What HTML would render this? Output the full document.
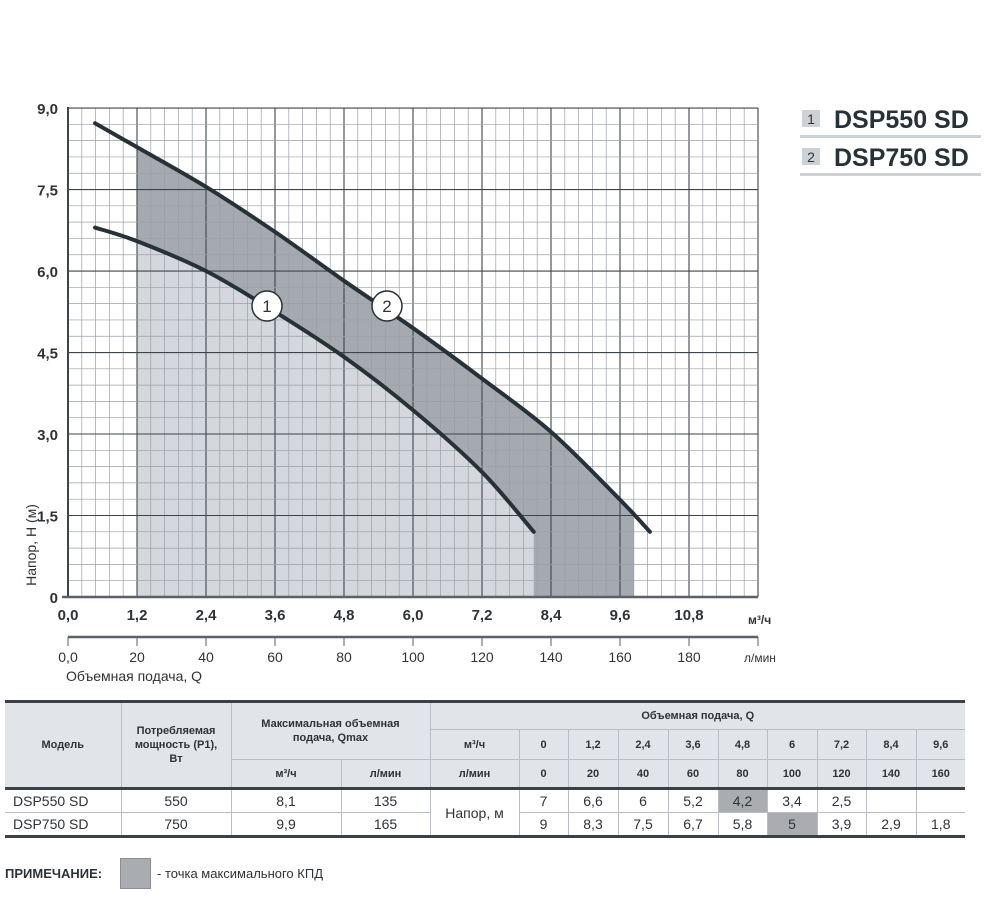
<!DOCTYPE html>
<html><head><meta charset="utf-8">
<style>
body{margin:0;background:#fff;width:1000px;height:924px;position:relative;overflow:hidden;font-family:"Liberation Sans Narrow","Liberation Sans",sans-serif;color:#2e3338}
svg{position:absolute;left:0;top:0}
table{position:absolute;left:5px;top:700px;border-collapse:collapse;table-layout:fixed;font-size:14px}
td{text-align:center;padding:0;border-left:1px solid #b9bec4;overflow:hidden;white-space:nowrap}
tr.h td{background:#e1e4e8;font-weight:bold;font-size:11px;color:#2e3338;border-bottom:1px solid #b9bec4}
td.w{white-space:normal;line-height:14px}
.hl{background:#a9adb2!important}
</style></head><body>
<svg id="chart" width="1000" height="700"></svg>
<table style="border-top:3px solid #3a4148;border-bottom:3px solid #3a4148">
<colgroup><col style="width:116px"><col style="width:110px"><col style="width:110px"><col style="width:89px"><col style="width:89px"><col style="width:49px"><col style="width:50px"><col style="width:50px"><col style="width:50px"><col style="width:49px"><col style="width:50px"><col style="width:49px"><col style="width:50px"><col style="width:49px"></colgroup>
<tr class="h" style="height:28px"><td rowspan="3" style="border-left:none">Модель</td><td rowspan="3" class="w">Потребляемая<br>мощность (P1),<br>Вт</td><td colspan="2" rowspan="2" class="w">Максимальная объемная<br>подача, Qmax</td><td colspan="10">Объемная подача, Q</td></tr>
<tr class="h" style="height:30px"><td>м³/ч</td><td>0</td><td>1,2</td><td>2,4</td><td>3,6</td><td>4,8</td><td>6</td><td>7,2</td><td>8,4</td><td>9,6</td></tr>
<tr class="h" style="height:29px;border-bottom:3px solid #3a4148"><td>м³/ч</td><td>л/мин</td><td>л/мин</td><td>0</td><td>20</td><td>40</td><td>60</td><td>80</td><td>100</td><td>120</td><td>140</td><td>160</td></tr>
<tr style="height:24px;border-bottom:1px solid #b9bec4"><td style="border-left:none;text-align:left;padding-left:8px">DSP550 SD</td><td>550</td><td>8,1</td><td>135</td><td rowspan="2">Напор, м</td><td>7</td><td>6,6</td><td>6</td><td>5,2</td><td class="hl">4,2</td><td>3,4</td><td>2,5</td><td></td><td></td></tr>
<tr style="height:24px"><td style="border-left:none;text-align:left;padding-left:8px">DSP750 SD</td><td>750</td><td>9,9</td><td>165</td><td>9</td><td>8,3</td><td>7,5</td><td>6,7</td><td>5,8</td><td class="hl">5</td><td>3,9</td><td>2,9</td><td>1,8</td></tr>
</table>
<div style="position:absolute;left:5px;top:866px;font-weight:bold;font-size:13px">ПРИМЕЧАНИЕ:</div>
<div style="position:absolute;left:120px;top:858px;width:29px;height:29px;background:#a9adb2;border:1px solid #8a8f95"></div>
<div style="position:absolute;left:157px;top:866px;font-size:13px">- точка максимального КПД</div>
<script>
const xTicks=[0,1.2,2.4,3.6,4.8,6.0,7.2,8.4,9.6,10.8];
const yTicks=[0,1.5,3.0,4.5,6.0,7.5,9.0];
const lpmTicks=[0,20,40,60,80,100,120,140,160,180];
const q1=[0.47,1.2,2.4,3.6,4.8,6.0,7.2,8.1];
const h1=[6.8,6.55,6.0,5.25,4.42,3.44,2.3,1.2];
const q2=[0.47,1.2,2.4,3.6,4.8,6.0,7.2,8.4,9.6,10.12];
const h2=[8.72,8.28,7.55,6.72,5.82,4.95,4.02,3.04,1.79,1.2];
const fillStart=1.2, fill1End=8.1, fill2End=9.84;
const X=q=>68+q*57.5, Y=h=>597-h*54.33;
const svg=document.getElementById('chart'),NS='http://www.w3.org/2000/svg';
function mk(t,a,p){const e=document.createElementNS(NS,t);for(const k in a)e.setAttribute(k,a[k]);(p||svg).appendChild(e);return e;}
function interp(qs,hs,q){for(let i=0;i<qs.length-1;i++){if(q<=qs[i+1]){const t=(q-qs[i])/(qs[i+1]-qs[i]);return hs[i]+t*(hs[i+1]-hs[i]);}}return hs[hs.length-1];}
function pts(qs,hs,a,b){const r=[];r.push([a,interp(qs,hs,a)]);qs.forEach((q,i)=>{if(q>a&&q<b)r.push([q,hs[i]]);});r.push([b,interp(qs,hs,b)]);return r;}
function smooth(p){let d='M'+X(p[0][0])+','+Y(p[0][1]);for(let i=0;i<p.length-1;i++){const p0=p[Math.max(0,i-1)],p1=p[i],p2=p[i+1],p3=p[Math.min(p.length-1,i+2)];const c1=[X(p1[0])+(X(p2[0])-X(p0[0]))/6,Y(p1[1])+(Y(p2[1])-Y(p0[1]))/6];const c2=[X(p2[0])-(X(p3[0])-X(p1[0]))/6,Y(p2[1])-(Y(p3[1])-Y(p1[1]))/6];d+=' C'+c1+' '+c2+' '+X(p2[0])+','+Y(p2[1]);}return d;}
// fills
const c1pts=pts(q1,h1,fillStart,fill1End), c2pts=pts(q2,h2,fillStart,fill2End);
let e=mk('path',{d:smooth(c2pts)+' L'+X(fill2End)+','+Y(0)+' L'+X(fillStart)+','+Y(0)+'Z',fill:'#a5aab0'});

e=mk('path',{d:smooth(c1pts)+' L'+X(fill1End)+','+Y(0)+' L'+X(fillStart)+','+Y(0)+'Z',fill:'#d4d8dc'});

// grid
const g=mk('g',{});
for(let i=0;i<=50;i++){const q=i*0.24,x=X(q);mk('line',{x1:x,x2:x,y1:Y(9),y2:Y(0),stroke:i%5?'#9aa0a6':'#3d454c','stroke-width':i%5?0.7:1.1},g);}
for(let i=0;i<=30;i++){const y=Y(i*0.3);mk('line',{x1:X(0),x2:758,y1:y,y2:y,stroke:i%5?'#9aa0a6':'#3d454c','stroke-width':i%5?0.7:1.1},g);}
mk('line',{x1:X(0),x2:X(0),y1:Y(9)-1,y2:Y(0),stroke:'#3d454c','stroke-width':2});
mk('line',{x1:X(0)-6,x2:758,y1:Y(0),y2:Y(0),stroke:'#5a6168','stroke-width':2.5});
// curves
e=mk('path',{d:smooth(q1.map((q,i)=>[q,h1[i]])),fill:'none',stroke:'#263238','stroke-width':4,'stroke-linecap':'round'});

e=mk('path',{d:smooth(q2.map((q,i)=>[q,h2[i]])),fill:'none',stroke:'#263238','stroke-width':4,'stroke-linecap':'round'});

[[267,306,'1'],[387,306,'2']].forEach(m=>{const c=mk('circle',{cx:m[0],cy:m[1],r:15,fill:'#fff',stroke:'#263238','stroke-width':1.5});const t=mk('text',{x:m[0],y:m[1]+6,'text-anchor':'middle','font-size':17,fill:'#333','font-family':'Liberation Sans, sans-serif'});t.textContent=m[2];});
// y ticks
yTicks.forEach(v=>{const t=mk('text',{x:58,y:Y(v)+6,'text-anchor':'end','font-size':15,'font-weight':'bold',fill:'#2e3338'});t.textContent=v===0?'0':v.toFixed(1).replace('.',',');});
e=mk('text',{x:0,y:0,transform:'translate(36,545) rotate(-90)','text-anchor':'middle','font-size':14,fill:'#2e3338'});e.textContent='Напор, Н (м)';
xTicks.forEach(v=>{const t=mk('text',{x:X(v),y:620,'text-anchor':'middle','font-size':15,'font-weight':'bold',fill:'#2e3338'});t.textContent=v.toFixed(1).replace('.',',');});
e=mk('text',{x:748,y:624,'font-size':12,'font-weight':'bold',fill:'#2e3338'});e.textContent='м³/ч';
// second axis
mk('line',{x1:X(0),x2:758,y1:637,y2:637,stroke:'#5a6168','stroke-width':2.5});
const lpmScale=v=>X(v*0.06);
lpmTicks.forEach(v=>{mk('line',{x1:lpmScale(v),x2:lpmScale(v),y1:637,y2:646,stroke:'#5a6168','stroke-width':1});const t=mk('text',{x:lpmScale(v),y:662,'text-anchor':'middle','font-size':14,fill:'#2e3338'});t.textContent=v===0?'0,0':v;});
mk('line',{x1:758,x2:758,y1:637,y2:646,stroke:'#5a6168','stroke-width':1});
e=mk('text',{x:744,y:662,'font-size':12,fill:'#2e3338'});e.textContent='л/мин';
e=mk('text',{x:66,y:681,'font-size':14,fill:'#2e3338'});e.textContent='Объемная подача, Q';
// legend
[['1','DSP550 SD',110],['2','DSP750 SD',148]].forEach(l=>{const b=mk('rect',{x:802,y:l[2],width:18,height:17,fill:'#ccd1d6'});let t=mk('text',{x:811,y:l[2]+14,'text-anchor':'middle','font-size':14,fill:'#333','font-family':'Liberation Sans, sans-serif'});t.textContent=l[0];t=mk('text',{x:834,y:l[2]+18,'font-size':25,'font-weight':'bold',fill:'#263238','font-family':'Liberation Sans, sans-serif'});t.textContent=l[1];mk('rect',{x:800,y:l[2]+25,width:181,height:3,fill:'#ccd1d6'});});
</script>
</body></html>
